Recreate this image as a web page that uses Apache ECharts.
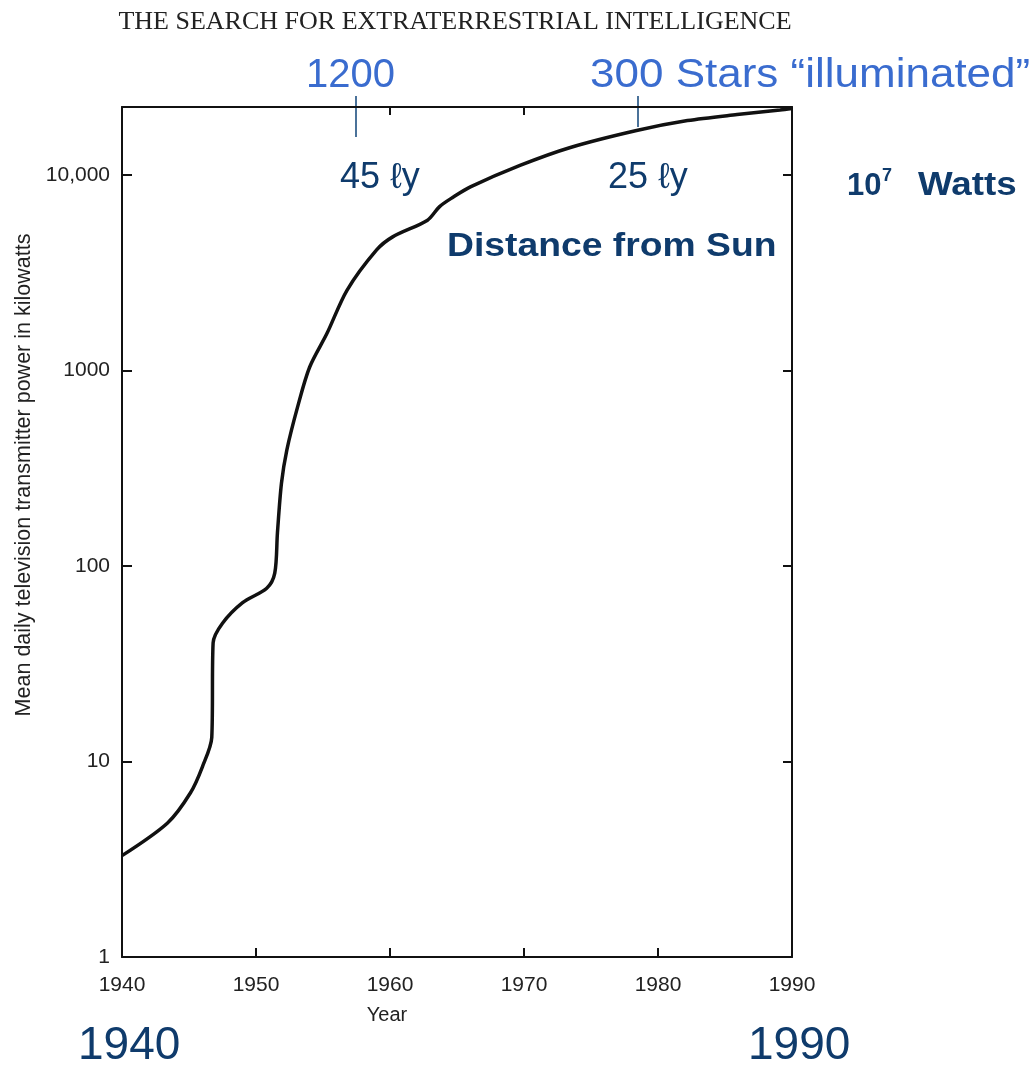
<!DOCTYPE html>
<html>
<head>
<meta charset="utf-8">
<script src="https://cdn.jsdelivr.net/npm/echarts@6/dist/echarts.min.js"></script>
<style>
html,body{margin:0;padding:0;background:#fff;}
#chart{width:1031px;height:1065px;}
</style>
</head>
<body>
<div id="chart"></div>
<script>
// Data
var years = [1940, 1943.4, 1945.1, 1946.0, 1946.7, 1946.8, 1947.5, 1949.0, 1950.8, 1951.4, 1951.6, 1951.9, 1952.3, 1953.1, 1954.0, 1955.3, 1956.8, 1959.0, 1960.2, 1962.8, 1963.7, 1964.7, 1966.0, 1969.7, 1973.4, 1978.4, 1982.2, 1985.9, 1989.1, 1990];
var powerKW = [3.3, 4.85, 6.9, 9.4, 13.3, 40.5, 51, 65, 77, 92, 148, 265, 392, 650, 1040, 1550, 2580, 4140, 4830, 5880, 6900, 7700, 8700, 11200, 13800, 16900, 19000, 20400, 21500, 21900];
var yTickLabels = {1: '1', 10: '10', 100: '100', 1000: '1000', 10000: '10,000'};
var topTickYears = [1960, 1970];
var titleText = 'THE SEARCH FOR EXTRATERRESTRIAL INTELLIGENCE';
var yName = 'Mean daily television transmitter power in kilowatts';
var xName = 'Year';

var seriesData = years.map(function (y, i) { return [y, powerKW[i]]; });

var chart = echarts.init(document.getElementById('chart'), null, {renderer: 'canvas'});
var NAVY = '#0f3b6c';
var BLUE = '#3a6ccf';
var lineStyle = {color: '#111', width: 2};
var SANS = '"Liberation Sans", Arial, sans-serif';

var option = {
  animation: false,
  backgroundColor: '#fff',
  grid: {left: 122, right: 239, top: 107, bottom: 108, outerBoundsMode: 'none', containLabel: false},
  xAxis: [{
    type: 'value', min: 1940, max: 1990, interval: 10, position: 'bottom',
    axisLine: {show: true, lineStyle: lineStyle},
    axisTick: {show: true, inside: true, length: 9, lineStyle: {color: '#111', width: 2}},
    axisLabel: {show: true, margin: 18, color: '#222', fontSize: 21, fontFamily: SANS,
      formatter: function (v) { return String(Math.round(v)); }},
    splitLine: {show: false}
  }, {
    type: 'value', min: 1940, max: 1990, interval: 10, position: 'top',
    axisLine: {show: true, lineStyle: lineStyle},
    axisTick: {show: true, inside: true, length: 8, customValues: topTickYears, lineStyle: {color: '#111', width: 2}},
    axisLabel: {show: false},
    splitLine: {show: false}
  }],
  yAxis: [{
    type: 'log', logBase: 10, min: 1, max: 22300, position: 'left',
    axisLine: {show: true, lineStyle: lineStyle},
    axisTick: {show: true, inside: true, length: 10, lineStyle: {color: '#111', width: 2}},
    axisLabel: {
      show: true, margin: 12, color: '#222', fontSize: 21, showMaxLabel: false,
      fontFamily: SANS,
      formatter: function (v) { var r = Math.round(v); return yTickLabels[r] || ''; }
    },
    splitLine: {show: false}
  }, {
    type: 'log', logBase: 10, min: 1, max: 22300, position: 'right',
    axisLine: {show: true, lineStyle: lineStyle},
    axisTick: {show: true, inside: true, length: 9, lineStyle: {color: '#111', width: 2}},
    axisLabel: {show: false},
    splitLine: {show: false}
  }],
  series: [{
    type: 'line', xAxisIndex: 0, yAxisIndex: 0,
    data: seriesData,
    showSymbol: false, symbol: 'none',
    smooth: 0.3,
    lineStyle: {color: '#111', width: 3.5},
    z: 5
  }],
  graphic: [
    {type: 'text', x: 455, y: 9, style: {text: titleText, fill: '#222', align: 'center', font: '26px "Liberation Serif", "Times New Roman", serif'}},
    {type: 'text', x: 24, y: 475, rotation: Math.PI / 2, style: {text: yName, fill: '#222', align: 'center', verticalAlign: 'middle', font: '21.5px ' + SANS}},
    {type: 'text', x: 387, y: 1015, style: {text: xName, fill: '#222', align: 'center', verticalAlign: 'middle', font: '20px ' + SANS}},
    {type: 'text', x: 306, y: 56, style: {text: '1200', fill: BLUE, font: '40px ' + SANS}},
    {type: 'text', x: 590, y: 56, scaleX: 1.1, style: {text: '300 Stars \u201Cilluminated\u201D', fill: BLUE, font: '40px ' + SANS}},
    {type: 'line', shape: {x1: 356, y1: 96, x2: 356, y2: 137}, style: {stroke: '#1d4f80', lineWidth: 1.6}},
    {type: 'line', shape: {x1: 638, y1: 96, x2: 638, y2: 127}, style: {stroke: '#1d4f80', lineWidth: 1.6}},
    {type: 'text', x: 340, y: 160, style: {text: '45 \u2113y', fill: NAVY, font: '36px ' + SANS}},
    {type: 'text', x: 608, y: 160, style: {text: '25 \u2113y', fill: NAVY, font: '36px ' + SANS}},
    {type: 'text', x: 847, y: 171, style: {text: '10', fill: NAVY, font: 'bold 31px ' + SANS}},
    {type: 'text', x: 882, y: 167, style: {text: '7', fill: NAVY, font: 'bold 18px ' + SANS}},
    {type: 'text', x: 918, y: 169, scaleX: 1.08, style: {text: 'Watts', fill: NAVY, font: 'bold 34px ' + SANS}},
    {type: 'text', x: 447, y: 230, scaleX: 1.13, style: {text: 'Distance from Sun', fill: NAVY, font: 'bold 33px ' + SANS}},
    {type: 'text', x: 78, y: 1023, style: {text: '1940', fill: NAVY, font: '46px ' + SANS}},
    {type: 'text', x: 748, y: 1023, style: {text: '1990', fill: NAVY, font: '46px ' + SANS}}
  ]
};
chart.setOption(option);
</script>
</body>
</html>
